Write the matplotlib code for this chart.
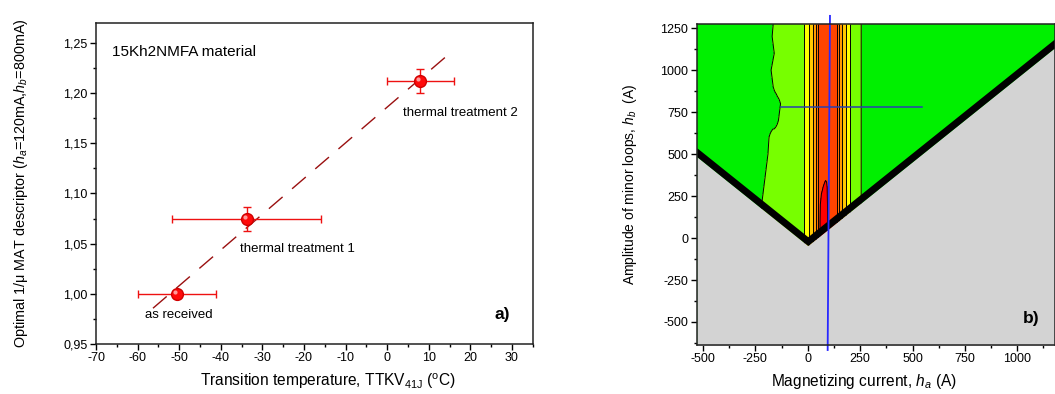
import numpy as np
import matplotlib
matplotlib.use('Agg')
import matplotlib.pyplot as plt
from matplotlib.ticker import MultipleLocator, FuncFormatter
from matplotlib.transforms import offset_copy

plt.rcParams['font.family'] = 'Liberation Sans'
plt.rcParams['mathtext.fontset'] = 'custom'
plt.rcParams['mathtext.rm'] = 'Liberation Sans'
plt.rcParams['mathtext.it'] = 'Liberation Sans:italic'
plt.rcParams['mathtext.bf'] = 'Liberation Sans:bold'
plt.rcParams['axes.unicode_minus'] = False

# ---- panel a) data
ttkv = [-50.5, -33.8, 8.0]
ttkv_err = [9.3, 18.0, 8.0]
descr = [1.000, 1.0745, 1.212]
descr_err = [0.0, 0.012, 0.012]
labels = ['as received', 'thermal treatment 1', 'thermal treatment 2']
label_x = [-58.3, -35.3, 3.7]
label_y = [0.979, 1.045, 1.180]
fit_range = [-56.3, 14.0]

# ---- panel b) data: band levels read along h_a, per-row corrections along h_b
ha_nodes = [-530, -190, -150, -35, -5, 16, 34, 46, 55, 62, 88, 100, 135, 145,
            156, 170, 195, 208, 240, 270, 1180]
level_row = [0.5, 0.5, 1.5, 1.5, 2.5, 3.5, 4.5, 5.5, 6.5, 6.5, 6.5, 6.5, 6.5,
             5.5, 4.5, 3.5, 2.5, 1.5, 1.5, 0.5, 0.5]
hb_rows = [-640, 0, 100, 200, 300, 400, 500, 600, 700, 800, 900, 1000, 1100, 1200, 1275]
lime_shift = [-70, -70, -60, -50, -40, -30, -20, -15, 30, 40, 5, -5, 10, 0, 5]
spike_62 = [7.5, 7.5, 7.5, 7.2, 6.8, 6.5, 6.5, 6.5, 6.5, 6.5, 6.5, 6.5, 6.5, 6.5, 6.5]
spike_88 = [7.5, 7.5, 7.5, 7.5, 7.3, 6.7, 6.5, 6.5, 6.5, 6.5, 6.5, 6.5, 6.5, 6.5, 6.5]
cross_ha = [106, 95]
cross_hb = [778, 778]
cross_hb_line = [1323, -667]
cross_ha_line = [-128, 546]

band_colors = ['#00f000', '#77ff00', '#ffff00', '#ffc800', '#ff9900',
               '#ff7000', '#ff4400', '#ff0000']

fig = plt.figure(figsize=(10.55, 3.94), dpi=100)

# ================= a)
ax = fig.add_axes([0.091, 0.127, 0.414, 0.815])
ax.errorbar(ttkv, descr, xerr=ttkv_err, yerr=descr_err, fmt='none',
            ecolor='#ee1111', elinewidth=1.0, capsize=3, capthick=1.0, zorder=2)
ax.plot(ttkv, descr, 'o', color='#ff0a0a', mec='#d00000', ms=8.5, zorder=3)
# shiny highlight on the balls
hl = offset_copy(ax.transData, fig=fig, x=-2, y=2, units='dots')
ax.plot(ttkv, descr, 'o', color='#ff9a9a', mec='none', ms=3, transform=hl, zorder=4)

a, b = np.polyfit(ttkv, descr, 1)
xf = np.array(fit_range)
ax.plot(xf, a * xf + b, color='#9a1010', lw=1.0, dashes=(13, 9), zorder=1)

for t, x, y in zip(labels, label_x, label_y):
    ax.text(x, y, t, fontsize=9.5, va='center', ha='left')
ax.text(-66.2, 1.2407, '15Kh2NMFA material', fontsize=11, va='center')
ax.text(25.8, 0.979, 'a)', fontsize=12.5, fontweight='bold', va='center')

ax.set_xlim(-70, 35)
ax.set_ylim(0.95, 1.27)
ax.xaxis.set_major_locator(MultipleLocator(10))
ax.xaxis.set_minor_locator(MultipleLocator(5))
ax.yaxis.set_major_locator(MultipleLocator(0.05))
ax.yaxis.set_minor_locator(MultipleLocator(0.025))
ax.yaxis.set_major_formatter(FuncFormatter(lambda v, p: ('%.2f' % v).replace('.', ',')))
ax.set_xlabel(r'Transition temperature, TTKV$_{\mathrm{41J}}$ ($^{\mathrm{o}}$C)', fontsize=11.2)
ax.set_ylabel(r'Optimal 1/μ MAT descriptor ($h_a$=120mA,$h_b$=800mA)', fontsize=10.4)
ax.yaxis.set_label_coords(-0.15, 0.5)
ax.xaxis.set_label_coords(0.531, -0.085)

# ================= b)
bx = fig.add_axes([0.6604, 0.1244, 0.3396, 0.8136])
bx.set_facecolor('#d3d3d3')
ha_grid = np.arange(-530, 1181, 5)
nodes = np.array(ha_nodes, dtype=float)
Z = []
for i in range(len(hb_rows)):
    n = nodes.copy()
    n[:3] = n[:3] + lime_shift[i]
    n[0] = ha_nodes[0]
    v = list(level_row)
    v[ha_nodes.index(62)] = spike_62[i]
    v[ha_nodes.index(88)] = spike_88[i]
    Z.append(np.interp(ha_grid, n, v))
Z = np.array(Z)
lev = np.arange(0, 9)
bx.contourf(ha_grid, hb_rows, Z, levels=lev, colors=band_colors, zorder=1)
bx.contour(ha_grid, hb_rows, Z, levels=lev[1:-1], colors='k', linewidths=0.7, zorder=2)

ex = np.array([-530, 0, 1180])
bx.fill_between(ex, -640, np.abs(ex) - 45, color='#d3d3d3', zorder=3, lw=0)
bx.fill_between(ex, np.abs(ex) - 45, np.abs(ex) + 8, color='k', zorder=3, lw=0)

bx.plot(cross_ha, cross_hb_line, color='#2828ff', lw=1.3, zorder=5, clip_on=False)
bx.plot(cross_ha_line, cross_hb, color='#2a3fb0', lw=1.1, zorder=5)
bx.text(1026, -482, 'b)', fontsize=12.5, fontweight='bold', va='center', zorder=6)

bx.set_xlim(-530, 1180)
bx.set_ylim(-637, 1272)
bx.xaxis.set_major_locator(MultipleLocator(250))
bx.xaxis.set_minor_locator(MultipleLocator(125))
bx.yaxis.set_major_locator(MultipleLocator(250))
bx.yaxis.set_minor_locator(MultipleLocator(125))
bx.set_xlabel(r'Magnetizing current, $h_a$ (A)', fontsize=11.2)
bx.set_ylabel(r'Amplitude of minor loops, $h_b$  (A)', fontsize=10)
bx.yaxis.set_label_coords(-0.16, 0.5)
bx.xaxis.set_label_coords(0.4655, -0.085)

for axx in (ax, bx):
    for s in axx.spines.values():
        s.set_linewidth(1.1)
        s.set_color('#222222')
        s.set_zorder(7)
    axx.tick_params(which='major', direction='out', length=4, width=1.0, labelsize=9, pad=2)
    axx.tick_params(which='minor', direction='out', length=2.5, width=1.0)

fig.savefig('out.png', dpi=100)
